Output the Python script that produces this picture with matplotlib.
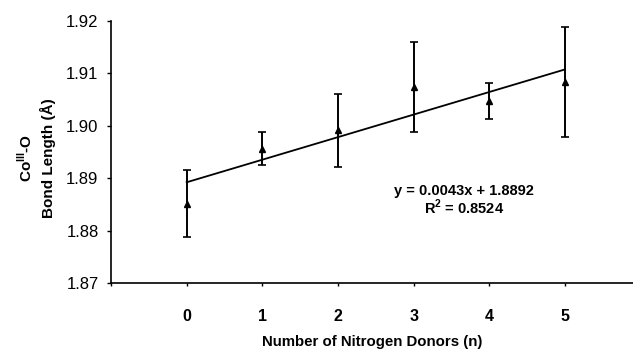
import matplotlib
matplotlib.use("Agg")

import matplotlib.pyplot as plt
import numpy as np

plt.rcParams["font.family"] = ["Liberation Sans", "DejaVu Sans"]
plt.rcParams["mathtext.fontset"] = "custom"
plt.rcParams["mathtext.rm"] = "Liberation Sans"
plt.rcParams["mathtext.bf"] = "Liberation Sans:bold"

# data
donors = [0, 1, 2, 3, 4, 5]
bond_length = [1.8851, 1.8956, 1.8991, 1.9073, 1.9047, 1.9083]
bond_err = [0.0064, 0.0032, 0.0069, 0.0086, 0.0035, 0.0104]

slope = 0.0043
intercept = 1.8892
r_squared = 0.8524

fig = plt.figure(figsize=(6.33, 3.56), dpi=100)
ax = fig.add_axes([0.1754, 0.205, 0.8246, 0.737])

ax.errorbar(donors, bond_length, yerr=bond_err, fmt="^", color="black",
            markersize=4, elinewidth=1.4, capsize=3, capthick=1.2)

fit_x = np.array([donors[0], donors[-1]])
ax.plot(fit_x, slope * fit_x + intercept, color="black", linewidth=1.3)

ax.set_xlim(-1, 5.9)
ax.set_ylim(1.87, 1.92)
ax.set_yticks([1.87, 1.88, 1.89, 1.90, 1.91, 1.92])
ax.set_yticklabels(["1.87", "1.88", "1.89", "1.90", "1.91", "1.92"])
ax.set_xticks([-1, 0, 1, 2, 3, 4, 5])
ax.set_xticklabels(["", "0", "1", "2", "3", "4", "5"], fontweight="bold")

for side in ["top", "right"]:
    ax.spines[side].set_visible(False)
for side in ["left", "bottom"]:
    ax.spines[side].set_linewidth(1.2)

ax.tick_params(axis="y", direction="out", length=3, width=1, labelsize=12, pad=6)
ax.tick_params(axis="x", direction="out", length=2.5, width=1, labelsize=11.5, pad=16)

ax.set_xlabel("Number of Nitrogen Donors (n)", fontsize=10.8, fontweight="bold",
              labelpad=8)

fig.text(0.040, 0.555, r"Co$^{\mathbf{III}}$-O", rotation=90, fontsize=11,
         fontweight="bold", ha="center", va="center")
fig.text(0.076, 0.555, "Bond Length (Å)", rotation=90, fontsize=11,
         fontweight="bold", ha="center", va="center")

ax.text(3.67, 1.8875, "y = 0.0043x + 1.8892", fontsize=10.5, fontweight="bold",
        ha="center", va="center")
ax.text(3.67, 1.8844, r"R$^{\mathbf{2}}$ = " + f"{r_squared:.4f}", fontsize=10.5,
        fontweight="bold", ha="center", va="center")

plt.savefig("out.png", dpi=100)
plt.close()
